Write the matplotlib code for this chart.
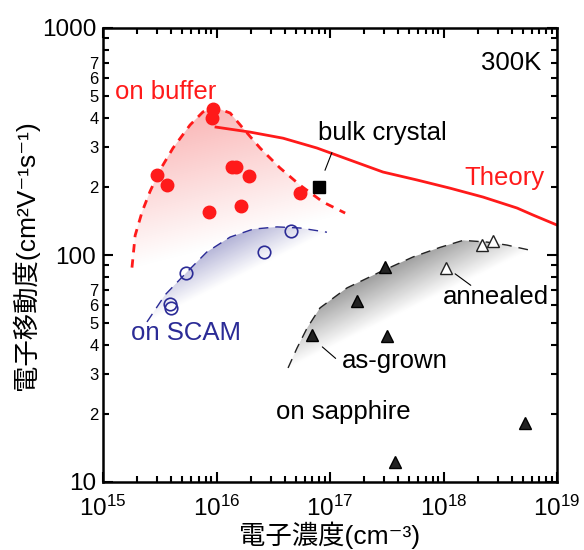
import numpy as np
import matplotlib
matplotlib.use('Agg')
import matplotlib.pyplot as plt
from matplotlib.patches import Polygon
from matplotlib.ticker import FixedLocator, FixedFormatter

plt.rcParams['font.family'] = ['Liberation Sans', 'Noto Sans CJK JP', 'DejaVu Sans']
plt.rcParams['mathtext.fontset'] = 'custom'
plt.rcParams['mathtext.rm'] = 'Liberation Sans'
plt.rcParams['mathtext.it'] = 'Liberation Sans:italic'

# on buffer (red filled circles)
buf_n = [9.3e15, 9.1e15, 3.0e15, 3.66e15, 8.6e15, 1.38e16, 1.48e16, 1.93e16, 1.64e16, 5.45e16]
buf_mu = [440, 402, 225, 203, 155, 245, 245, 223, 164, 187]
buf_env_n = [1.80e15, 1.92e15, 2.21e15, 2.59e15, 3.18e15, 4.14e15, 5.85e15, 7.6e15, 1.01e16,
             1.32e16, 1.71e16, 2.42e16, 3.62e16, 5.45e16, 8.7e16, 1.36e17]
buf_env_mu = [88, 122, 155, 190, 237, 296, 374, 427, 444, 422, 362, 296, 242, 203, 171, 153]

# on SCAM (open circles)
scam_n = [5.38e15, 3.9e15, 4.0e15, 2.62e16, 4.53e16]
scam_mu = [83.4, 60.8, 58.5, 103, 128]
scam_env_n = [2.44e15, 3.52e15, 5.5e15, 8.2e15, 1.32e16, 2.10e16, 3.41e16, 5.45e16, 9.4e16]
scam_env_mu = [50.7, 66.7, 84.2, 103, 120, 130, 133, 131.5, 126]

# on sapphire as-grown (filled triangles) and annealed (open triangles)
grown_n = [3.06e17, 1.73e17, 6.9e16, 3.18e17, 3.74e17, 5.2e18]
grown_mu = [88.5, 62.7, 44.5, 44, 12.25, 18.2]
ann_n = [1.05e18, 2.18e18, 2.73e18]
ann_mu = [87.7, 110.7, 115]
sap_env_n = [4.27e16, 5.12e16, 6.27e16, 8.17e16, 1.41e17, 2.76e17, 5.38e17, 9.3e17,
             1.49e18, 2.42e18, 3.62e18, 5.78e18]
sap_env_mu = [31.8, 38.9, 47.6, 58.5, 71.6, 84.2, 98, 108, 116, 114, 110.6, 105]

# bulk crystal
bulk_n = [8.0e16]
bulk_mu = [200]

# theory
th_n = [9.9e15, 1.97e16, 3.86e16, 7.67e16, 1.50e17, 2.93e17, 5.85e17, 1.14e18,
        2.23e18, 4.45e18, 6.15e18, 1e19]
th_mu = [366, 348, 327, 296, 262, 232, 214, 197, 180, 161, 150, 135.5]

red = '#ff1a1a'
navy = '#2b2b96'

fig = plt.figure(figsize=(5.84, 5.5), dpi=100)
pos = [103 / 584, 1 - 482 / 550, 454 / 584, 454 / 550]

# background axes in log10 units for the gradient fills
bg = fig.add_axes(pos, zorder=0)
bg.set_xlim(15, 19)
bg.set_ylim(1, 3)
bg.axis('off')

ax = fig.add_axes(pos, zorder=1)
ax.patch.set_alpha(0)


def grad_fill(n, mu, color):
    lx = np.log10(n)
    ly = np.log10(mu)
    # roughly pixel units: one x decade 113.5 px, one y decade 227 px
    px = lx * 113.5
    py = ly * 227.0
    x0, y0, x1, y1 = px[0], py[0], px[-1], py[-1]
    dx, dy = x1 - x0, y1 - y0
    L = np.hypot(dx, dy)
    dmax = (np.abs((px - x0) * dy - (py - y0) * dx) / L).max()
    gx, gy = np.meshgrid(np.linspace(15, 19, 600), np.linspace(1, 3, 600))
    t = np.abs((gx * 113.5 - x0) * dy - (gy * 227.0 - y0) * dx) / L / dmax
    t = np.clip(t, 0, 1)
    c = np.array(matplotlib.colors.to_rgb(color))
    img = 1 - t[..., None] * (1 - c)
    im = bg.imshow(img, extent=[15, 19, 1, 3], origin='lower', aspect='auto', interpolation='bilinear')
    poly = Polygon(np.column_stack([lx, ly]), closed=True, facecolor='none', edgecolor='none')
    bg.add_patch(poly)
    im.set_clip_path(poly)


grad_fill(buf_env_n, buf_env_mu, (0.98, 0.72, 0.72))
grad_fill(scam_env_n, scam_env_mu, (0.70, 0.70, 0.84))
grad_fill(sap_env_n, sap_env_mu, (0.62, 0.62, 0.62))

ax.plot(buf_env_n, buf_env_mu, '--', color=red, lw=2, dashes=(3, 2.5))
ax.plot(scam_env_n, scam_env_mu, '--', color=navy, lw=1, dashes=(7, 5))
ax.plot(sap_env_n, sap_env_mu, '--', color='#222222', lw=1, dashes=(7, 5))
ax.plot(th_n, th_mu, '-', color=red, lw=2)

ax.plot(buf_n, buf_mu, 'o', color=red, ms=9, mec=red)
ax.plot(scam_n, scam_mu, 'o', mfc='none', mec=navy, ms=9, mew=1.2)
ax.plot(grown_n, grown_mu, '^', mfc='#222222', mec='black', ms=9, mew=1)
ax.plot(ann_n, ann_mu, '^', mfc='white', mec='#222222', ms=9, mew=1)
ax.plot(bulk_n, bulk_mu, 's', color='black', ms=8)

ax.set_xscale('log')
ax.set_yscale('log')
ax.set_xlim(1e15, 1e19)
ax.set_ylim(10, 1000)

ax.xaxis.set_major_locator(FixedLocator([1e15, 1e16, 1e17, 1e18, 1e19]))
ax.xaxis.set_major_formatter(FixedFormatter([r'$\mathregular{10^{%d}}$' % e for e in range(15, 20)]))
xminor = [m * 10.0 ** e for e in range(15, 19) for m in range(2, 10)]
ax.xaxis.set_minor_locator(FixedLocator(xminor))
ax.xaxis.set_minor_formatter(FixedFormatter([''] * len(xminor)))

ax.yaxis.set_major_locator(FixedLocator([10, 100, 1000]))
ax.yaxis.set_major_formatter(FixedFormatter(['10', '100', '1000']))
yminor = [m * 10.0 ** e for e in range(1, 3) for m in range(2, 10)]
ylab = [str(int(m)) if m <= 7 else '' for e in range(1, 3) for m in range(2, 10)]
ax.yaxis.set_minor_locator(FixedLocator(yminor))
ax.yaxis.set_minor_formatter(FixedFormatter(ylab))

ax.tick_params(which='both', direction='in', top=True, right=True, width=1.5)
ax.tick_params(which='major', length=7, labelsize=17.5, pad=5)
ax.tick_params(axis='x', which='major', pad=10)
ax.tick_params(axis='y', which='minor', length=4, labelsize=12, pad=3)
ax.tick_params(axis='x', which='minor', length=4)
for s in ax.spines.values():
    s.set_linewidth(1.8)

ax.set_xlabel('電子濃度(cm⁻³)', fontsize=19, labelpad=0)
ax.set_ylabel('電子移動度(cm²V⁻¹s⁻¹)', fontsize=19, labelpad=2)

tk = dict(transform=ax.transAxes, fontsize=18.5, va='center')
ax.text(0.026, 0.859, 'on buffer', color=red, **tk)
ax.text(0.965, 0.923, '300K', color='black', ha='right', **tk)
ax.text(0.474, 0.769, 'bulk crystal', color='black', **tk)
ax.text(0.797, 0.670, 'Theory', color=red, **tk)
ax.text(0.062, 0.328, 'on SCAM', color=navy, **tk)
ax.text(0.749, 0.407, 'annealed', color='black', **tk)
ax.text(0.526, 0.267, 'as-grown', color='black', **tk)
ax.text(0.381, 0.154, 'on sapphire', color='black', **tk)

lk = dict(arrowprops=dict(arrowstyle='-', color='black', lw=0.8))
ax.annotate('', xy=(8.85e16, 230), xytext=(1.06e17, 290), **lk)
ax.annotate('', xy=(1.21e18, 84), xytext=(1.82e18, 72.3), **lk)
ax.annotate('', xy=(8.2e16, 40.1), xytext=(1.17e17, 34.4), **lk)

fig.savefig('out.png', dpi=100)
